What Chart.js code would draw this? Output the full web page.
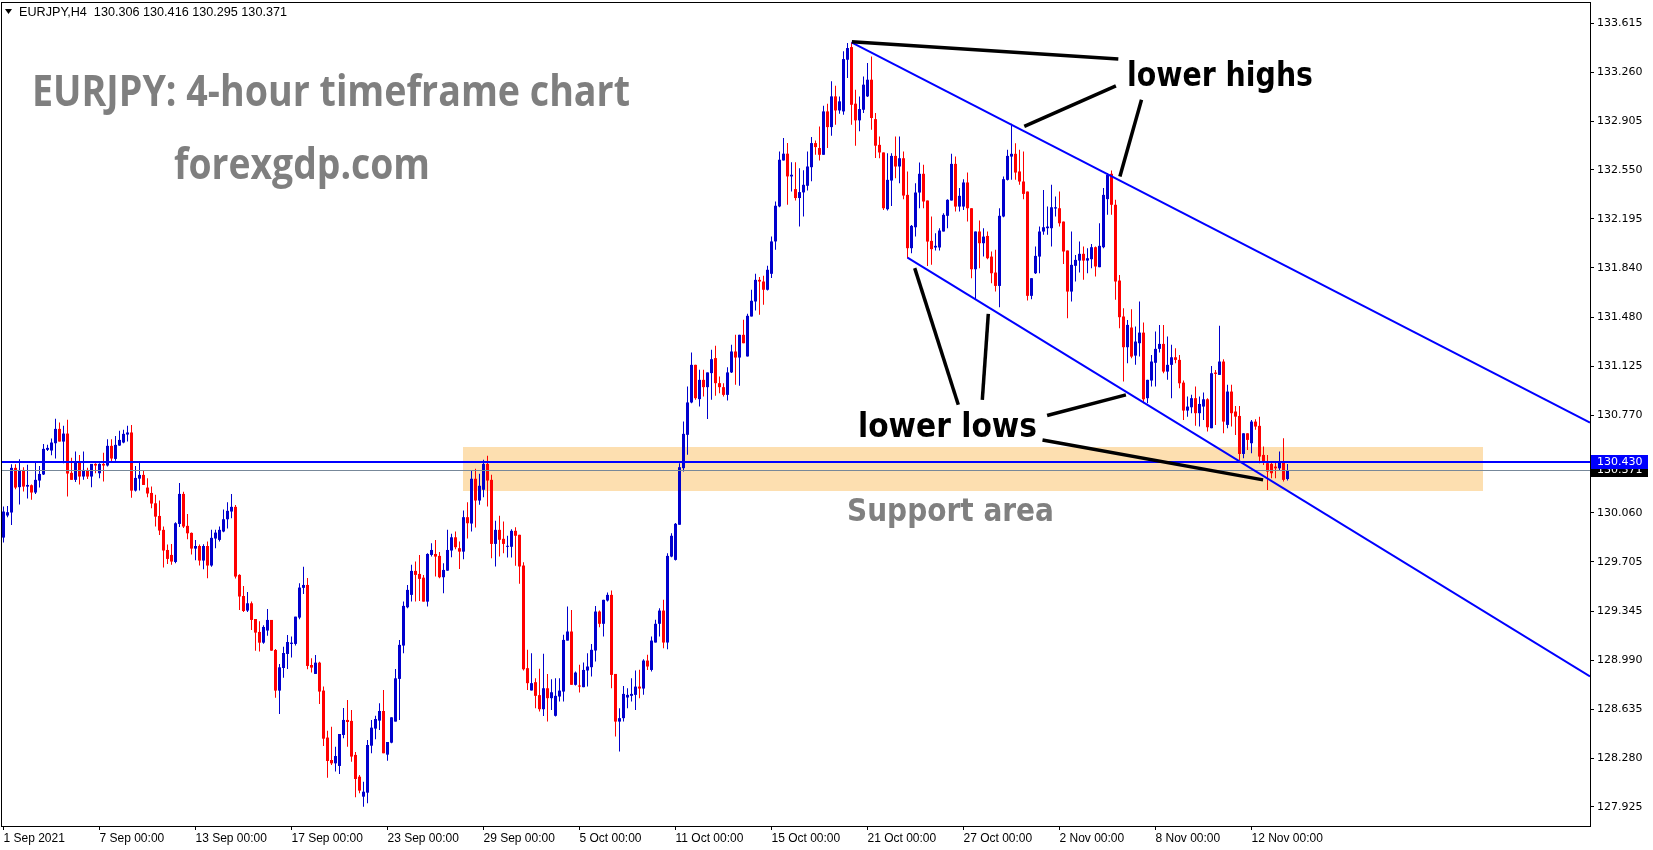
<!DOCTYPE html>
<html>
<head>
<meta charset="utf-8">
<title>EURJPY H4</title>
<script src="https://cdn.jsdelivr.net/npm/chart.js@4.4.1/dist/chart.umd.min.js"></script>
<style>
  html, body { margin: 0; padding: 0; background: #fff; }
  #wrap { width: 1653px; height: 850px; }
</style>
</head>
<body>
<div id="wrap"><canvas id="chart" width="1653" height="850"></canvas></div>
<script>
// H4 candles, 1 Sep 2021 00:00 onwards (bar index = position)
const opens = [
  129.881,130.041,130.063,130.387,130.247,130.372,130.251,130.261,130.208,130.295,130.339,130.518,
  130.513,130.566,130.670,130.578,130.636,130.351,130.300,130.431,130.324,130.372,130.324,130.416,
  130.348,130.416,130.404,130.547,130.452,130.549,130.571,130.629,130.644,130.222,130.309,130.336,
  130.244,130.205,130.130,130.038,129.937,129.791,129.755,129.704,129.980,130.198,129.966,129.915,
  129.801,129.820,129.714,129.820,129.678,129.874,129.864,129.925,130.014,130.070,130.104,129.610,
  129.457,129.351,129.404,129.290,129.196,129.118,129.206,129.283,129.065,128.770,128.934,129.036,
  129.109,129.109,129.300,129.516,129.537,128.956,128.891,128.973,128.770,128.429,128.266,128.242,
  128.223,128.448,128.557,128.550,128.303,128.145,128.000,128.029,128.370,128.494,128.552,128.622,
  128.305,128.392,128.545,128.855,129.097,129.375,129.465,129.639,129.617,129.590,129.416,129.755,
  129.762,129.748,129.593,129.641,129.787,129.883,129.804,129.779,130.029,129.983,130.308,130.150,
  130.228,130.416,130.300,129.835,129.937,129.872,129.814,129.814,129.930,129.901,129.678,128.933,
  128.771,128.831,128.737,128.635,128.787,128.715,128.587,128.727,128.763,129.133,129.199,128.812,
  128.807,128.795,128.916,128.940,129.061,129.344,129.255,129.424,129.465,128.891,128.545,128.570,
  128.720,128.732,128.739,128.799,128.785,128.988,128.920,129.119,129.255,129.351,129.119,129.743,
  129.719,129.974,130.385,130.627,130.862,131.135,130.886,131.026,130.973,131.075,131.184,131.002,
  130.973,130.917,131.080,131.232,131.188,131.353,131.196,131.486,131.595,131.752,131.740,131.680,
  131.796,132.031,132.285,132.619,132.668,132.503,132.411,132.346,132.387,132.435,132.570,132.745,
  132.709,132.660,132.975,132.861,133.084,132.982,132.975,133.350,133.442,133.031,132.910,132.987,
  133.084,133.205,132.919,132.732,132.677,132.265,132.473,132.652,132.575,132.635,132.369,131.982,
  132.134,132.386,132.522,132.328,132.035,131.987,131.987,132.103,132.217,132.328,132.594,132.284,
  132.284,132.459,132.272,131.829,132.103,132.018,132.071,131.921,131.805,131.708,132.212,132.478,
  132.647,132.667,132.539,132.466,132.393,131.636,131.800,131.921,132.103,132.127,132.127,132.270,
  132.272,132.175,131.965,131.667,131.854,131.892,131.941,131.892,131.902,131.989,131.844,131.989,
  132.338,132.522,132.297,131.747,131.486,131.263,131.406,131.202,131.292,131.369,130.893,131.021,
  131.150,131.251,131.287,131.086,131.135,131.190,131.171,131.006,130.803,130.827,130.893,130.784,
  130.832,130.885,130.675,131.079,131.062,131.159,130.699,130.941,130.796,130.764,130.488,130.638,
  130.566,130.723,130.692,130.481,130.421,130.416,130.396,130.384,130.433,130.306
];
const highs = [
  130.106,130.111,130.414,130.414,130.450,130.392,130.409,130.266,130.433,130.401,130.561,130.554,
  130.600,130.743,130.716,130.692,130.736,130.460,130.506,130.481,130.506,130.387,130.416,130.421,
  130.421,130.496,130.595,130.595,130.619,130.656,130.663,130.692,130.699,130.401,130.431,130.372,
  130.312,130.251,130.191,130.150,129.961,129.830,129.835,129.992,130.278,130.213,130.053,129.917,
  129.864,129.830,129.833,129.852,129.937,129.937,129.961,130.084,130.138,130.198,130.118,129.615,
  129.530,129.486,129.416,129.290,129.273,129.244,129.363,129.283,129.072,128.964,129.089,129.174,
  129.162,129.307,129.549,129.670,129.588,129.005,129.029,128.980,128.799,128.479,128.508,128.363,
  128.455,128.644,128.702,128.629,128.324,128.157,128.109,128.412,128.557,128.588,128.678,128.775,
  128.397,128.576,128.927,129.138,129.416,129.537,129.683,129.707,129.755,129.610,129.767,129.840,
  129.864,129.777,129.695,129.937,129.908,129.925,129.852,130.077,130.138,130.368,130.380,130.344,
  130.446,130.475,130.337,130.003,130.039,129.998,129.894,129.942,129.956,129.901,129.702,129.066,
  129.042,128.860,128.928,129.037,128.891,128.853,128.860,128.860,129.175,129.380,129.356,128.908,
  128.957,128.974,129.042,129.109,129.385,129.351,129.429,129.482,129.497,128.891,128.642,128.804,
  128.787,128.860,128.916,128.921,128.998,129.030,129.163,129.284,129.368,129.429,129.768,129.913,
  129.986,130.421,130.724,130.978,131.225,131.135,131.099,131.099,131.080,131.244,131.273,131.050,
  131.002,131.118,131.280,131.353,131.353,131.462,131.506,131.680,131.796,131.772,131.782,131.854,
  132.067,132.321,132.684,132.781,132.745,132.605,132.605,132.563,132.547,132.684,132.789,132.764,
  132.866,133.016,133.031,133.193,133.161,133.084,133.411,133.471,133.476,133.132,133.084,133.229,
  133.326,133.374,132.963,132.793,132.677,132.672,132.672,132.793,132.793,132.684,132.539,132.151,
  132.454,132.604,132.587,132.328,132.212,132.091,132.127,132.236,132.338,132.667,132.647,132.418,
  132.483,132.531,132.272,132.103,132.183,132.127,132.103,131.958,131.970,132.272,132.502,132.696,
  132.885,132.744,132.696,132.684,132.393,131.764,131.994,132.139,132.405,132.284,132.442,132.357,
  132.393,132.175,131.965,132.103,131.933,132.030,131.994,131.982,132.013,131.994,132.163,132.418,
  132.527,132.546,132.333,131.788,131.546,131.461,131.539,131.413,131.595,131.442,131.026,131.207,
  131.377,131.425,131.425,131.340,131.280,131.256,131.207,131.021,130.905,130.917,130.977,130.905,
  130.934,130.893,131.127,131.098,131.418,131.176,130.990,130.990,130.837,130.837,130.638,130.638,
  130.735,130.740,130.759,130.542,130.481,130.425,130.433,130.505,130.602,130.416
];
const lows = [
  129.845,130.029,129.973,130.232,130.121,130.215,130.164,130.155,130.198,130.244,130.336,130.510,
  130.479,130.455,130.578,130.421,130.179,130.300,130.285,130.266,130.300,130.307,130.247,130.348,
  130.312,130.288,130.397,130.433,130.438,130.547,130.566,130.578,130.171,130.215,130.222,130.263,
  130.174,130.094,129.961,129.900,129.663,129.690,129.683,129.695,129.958,129.951,129.869,129.758,
  129.716,129.678,129.651,129.586,129.670,129.804,129.852,129.920,129.946,130.021,129.583,129.356,
  129.341,129.341,129.210,129.060,129.053,129.111,129.169,129.060,128.719,128.600,128.864,128.927,
  129.010,129.097,129.288,129.472,128.925,128.901,128.891,128.673,128.368,128.138,128.230,128.182,
  128.165,128.424,128.363,128.254,127.995,128.024,127.927,127.952,128.315,128.416,128.484,128.315,
  128.261,128.387,128.545,128.557,129.041,129.368,129.416,129.416,129.421,129.416,129.380,129.743,
  129.598,129.586,129.477,129.641,129.738,129.796,129.653,129.724,129.874,129.925,129.954,130.119,
  130.174,130.107,129.731,129.671,129.744,129.768,129.736,129.736,129.676,129.545,128.916,128.775,
  128.771,128.642,128.618,128.586,128.545,128.630,128.582,128.690,128.690,129.133,128.812,128.807,
  128.756,128.795,128.799,128.872,128.981,129.230,129.163,129.417,128.787,128.436,128.327,128.545,
  128.642,128.690,128.630,128.715,128.739,128.920,128.908,129.119,129.163,129.078,129.071,129.739,
  129.715,129.974,130.361,130.482,130.857,130.881,130.833,130.905,130.741,130.881,130.910,130.929,
  130.905,130.876,131.075,130.990,130.983,131.292,131.196,131.486,131.530,131.498,131.571,131.675,
  131.765,131.970,132.280,132.619,132.297,132.394,132.329,132.140,132.212,132.401,132.467,132.660,
  132.619,132.660,132.709,132.798,132.878,132.958,132.951,133.217,132.878,132.726,132.830,132.963,
  133.079,132.842,132.636,132.635,132.260,132.255,132.289,132.490,132.454,132.338,131.909,131.946,
  132.067,132.272,132.272,131.853,131.861,131.965,131.965,132.103,132.127,132.328,132.248,132.248,
  132.260,132.175,131.764,131.611,131.837,131.921,131.902,131.728,131.667,131.553,132.207,132.473,
  132.478,132.478,132.442,132.338,131.602,131.611,131.795,131.800,132.079,132.079,131.994,132.212,
  132.139,131.868,131.473,131.594,131.740,131.805,131.752,131.800,131.837,131.776,131.844,131.982,
  132.224,132.224,131.607,131.401,131.014,131.147,131.183,131.135,131.195,130.856,130.856,130.977,
  130.977,131.224,131.074,131.026,130.893,131.147,130.965,130.735,130.759,130.784,130.692,130.687,
  130.735,130.651,130.675,130.699,131.062,130.638,130.675,130.687,130.626,130.445,130.457,130.517,
  130.493,130.663,130.421,130.408,130.227,130.312,130.312,130.372,130.288,130.295
];
const closes = [
  130.070,130.065,130.387,130.244,130.372,130.251,130.263,130.208,130.300,130.343,130.525,130.532,
  130.571,130.670,130.578,130.636,130.346,130.300,130.431,130.324,130.372,130.324,130.416,130.404,
  130.416,130.404,130.547,130.455,130.554,130.590,130.634,130.644,130.222,130.314,130.336,130.263,
  130.201,130.128,130.033,129.932,129.787,129.726,129.707,129.985,130.198,129.961,129.912,129.801,
  129.820,129.714,129.820,129.678,129.879,129.917,129.937,130.014,130.075,130.104,129.598,129.453,
  129.348,129.404,129.283,129.191,129.118,129.232,129.283,129.060,128.770,128.939,129.043,129.123,
  129.118,129.307,129.518,129.537,128.949,128.937,128.973,128.763,128.421,128.259,128.242,128.295,
  128.455,128.557,128.542,128.291,128.128,128.044,128.036,128.375,128.501,128.564,128.622,128.315,
  128.397,128.576,128.859,129.102,129.385,129.501,129.639,129.610,129.581,129.416,129.762,129.791,
  129.743,129.593,129.646,129.791,129.883,129.811,129.779,130.029,129.985,130.308,130.150,130.257,
  130.416,130.295,129.835,129.937,129.865,129.835,129.821,129.930,129.894,129.671,128.925,128.824,
  128.824,128.732,128.635,128.787,128.715,128.758,128.732,128.770,129.138,129.199,128.812,128.901,
  128.799,128.920,128.945,129.066,129.344,129.255,129.429,129.465,128.884,128.545,128.570,128.746,
  128.739,128.746,128.799,128.785,128.988,128.945,129.133,129.255,129.351,129.119,129.748,129.894,
  129.981,130.392,130.634,130.862,131.135,130.893,131.026,130.973,131.080,131.176,131.002,130.973,
  130.917,131.080,131.232,131.188,131.353,131.292,131.491,131.600,131.752,131.740,131.680,131.825,
  132.031,132.290,132.624,132.668,132.503,132.515,132.346,132.389,132.442,132.575,132.745,132.716,
  132.660,132.975,132.861,133.084,132.982,133.048,133.355,133.435,133.023,132.910,132.992,133.169,
  133.205,132.927,132.726,132.677,132.272,132.478,132.652,132.575,132.635,132.364,131.982,132.144,
  132.386,132.522,132.321,132.030,131.975,131.999,132.110,132.224,132.333,132.594,132.284,132.362,
  132.459,132.272,131.829,132.103,132.018,132.066,131.909,131.800,131.708,132.217,132.483,132.652,
  132.667,132.531,132.466,132.376,131.636,131.764,131.926,132.103,132.134,132.139,132.279,132.279,
  132.163,131.958,131.667,131.861,131.897,131.941,131.892,131.909,131.989,131.849,131.999,132.369,
  132.514,132.297,131.740,131.481,131.263,131.425,131.195,131.304,131.369,130.885,131.026,131.159,
  131.251,131.287,131.086,131.135,131.190,131.171,131.001,130.803,130.832,130.893,130.784,130.851,
  130.885,130.682,131.074,131.069,131.159,130.723,130.941,130.784,130.759,130.488,130.638,130.590,
  130.723,130.687,130.469,130.433,130.360,130.348,130.384,130.433,130.300,130.371
];

const xTickBars = [0, 24, 48, 72, 96, 120, 144, 168, 192, 216, 240, 264, 288, 312];
const xTickLabels = ['1 Sep 2021', '7 Sep 00:00', '13 Sep 00:00', '17 Sep 00:00', '23 Sep 00:00',
  '29 Sep 00:00', '5 Oct 00:00', '11 Oct 00:00', '15 Oct 00:00', '21 Oct 00:00', '27 Oct 00:00',
  '2 Nov 00:00', '8 Nov 00:00', '12 Nov 00:00'];
const yTickValues = [133.615, 133.260, 132.905, 132.550, 132.195, 131.840, 131.480, 131.125,
  130.770, 130.060, 129.705, 129.345, 128.990, 128.635, 128.280, 127.925];

// drawn objects, in [bar, price]
const resistanceLevel = 130.430;
const bidLevel = closes[closes.length - 1];
const channelUpper = [[212, 133.476], [252, 132.878]];
const channelLower = [[226, 131.914], [316, 130.310]];
const supportZone = [[114.75, 130.540], [369.8, 130.222]];
const pointerLines = [
  [[212.1, 133.480], [278.7, 133.355]],
  [[255.2, 132.866], [278.1, 133.161]],
  [[279.1, 132.502], [284.5, 133.059]],
  [[227.8, 131.837], [238.7, 130.845]],
  [[246.2, 131.505], [244.7, 130.881]],
  [[260.9, 130.767], [280.6, 130.917]],
  [[259.75, 130.590], [314.9, 130.300]]
];

const UP = '#0000cd', DOWN = '#ff0000';
const candleColors = closes.map((c, i) => c >= opens[i] ? UP : DOWN);

function fitText(ctx, text, x, y, font, width, color) {
  ctx.save();
  ctx.font = font;
  ctx.fillStyle = color;
  ctx.textBaseline = 'alphabetic';
  ctx.textAlign = 'left';
  const w = ctx.measureText(text).width;
  ctx.translate(x, y);
  ctx.scale(width / w, 1);
  ctx.fillText(text, 0, 0);
  ctx.restore();
}

function ray(ctx, xs, ys, p1, p2, toX) {
  const slope = (p2[1] - p1[1]) / (p2[0] - p1[0]);
  ctx.beginPath();
  ctx.moveTo(xs.getPixelForValue(p1[0]), ys.getPixelForValue(p1[1]));
  ctx.lineTo(xs.getPixelForValue(toX), ys.getPixelForValue(p1[1] + slope * (toX - p1[0])));
  ctx.stroke();
}

const overlay = {
  id: 'overlay',
  beforeDatasetsDraw(chart) {
    const { ctx, chartArea: a, scales: { x, y } } = chart;
    ctx.save();
    ctx.beginPath();
    ctx.rect(a.left, a.top, a.right - a.left, a.bottom - a.top);
    ctx.clip();
    const x0 = Math.round(x.getPixelForValue(supportZone[0][0]));
    const x1 = Math.round(x.getPixelForValue(supportZone[1][0]));
    const y0 = Math.round(y.getPixelForValue(supportZone[0][1]));
    const y1 = Math.round(y.getPixelForValue(supportZone[1][1]));
    ctx.fillStyle = '#fddfb0';
    ctx.fillRect(x0, y0, x1 - x0, y1 - y0);
    ctx.restore();
  },
  afterDatasetsDraw(chart) {
    const { ctx, chartArea: a, scales: { x, y } } = chart;
    ctx.save();
    ctx.beginPath();
    ctx.rect(a.left, a.top, a.right - a.left, a.bottom - a.top);
    ctx.clip();

    // price lines
    const yr = Math.round(y.getPixelForValue(resistanceLevel));
    ctx.fillStyle = '#0000ff';
    ctx.fillRect(a.left, yr - 1, a.right - a.left, 2);
    const yb = Math.round(y.getPixelForValue(bidLevel));
    ctx.fillStyle = '#778899';
    ctx.fillRect(a.left, yb, a.right - a.left, 1);

    // channel
    ctx.strokeStyle = '#0000ff';
    ctx.lineWidth = 2;
    ray(ctx, x, y, channelUpper[0], channelUpper[1], x.max);
    ray(ctx, x, y, channelLower[0], channelLower[1], x.max);

    // pointers
    ctx.strokeStyle = '#000';
    ctx.lineWidth = 3.5;
    pointerLines.forEach(([p, q]) => {
      ctx.beginPath();
      ctx.moveTo(x.getPixelForValue(p[0]), y.getPixelForValue(p[1]));
      ctx.lineTo(x.getPixelForValue(q[0]), y.getPixelForValue(q[1]));
      ctx.stroke();
    });
    ctx.restore();

    fitText(ctx, 'EURJPY: 4-hour timeframe chart', 32, 106, 'bold 43px "Open Sans"', 598, '#7f7f7f');
    fitText(ctx, 'forexgdp.com', 174, 179, 'bold 43px "Open Sans"', 256, '#7f7f7f');
    fitText(ctx, 'lower highs', 1127, 86, 'bold 34px "DejaVu Sans"', 186, '#000');
    fitText(ctx, 'lower lows', 858, 437, 'bold 34px "DejaVu Sans"', 179, '#000');
    fitText(ctx, 'Support area', 847, 521, 'bold 32px "DejaVu Sans"', 207, '#808080');
  },
  afterDraw(chart) {
    const { ctx, chartArea: a, scales: { y } } = chart;
    ctx.save();
    // frame
    ctx.strokeStyle = '#000';
    ctx.lineWidth = 1;
    ctx.strokeRect(a.left - 0.5, a.top - 0.5, a.right - a.left + 1, a.bottom - a.top + 1);

    // price tags on the axis
    ctx.font = '11px "DejaVu Sans"';
    ctx.textBaseline = 'middle';
    const yb = Math.round(y.getPixelForValue(bidLevel));
    ctx.fillStyle = '#000';
    ctx.fillRect(a.right + 1, yb - 7, 57, 14);
    ctx.fillStyle = '#fff';
    ctx.fillText(bidLevel.toFixed(3), a.right + 7, yb + 0.5);
    const yr = Math.round(y.getPixelForValue(resistanceLevel));
    ctx.fillStyle = '#0000ff';
    ctx.fillRect(a.right + 1, yr - 7, 57, 14);
    ctx.fillStyle = '#fff';
    ctx.fillText(resistanceLevel.toFixed(3), a.right + 7, yr + 0.5);

    // symbol header
    const n = closes.length - 1;
    ctx.fillStyle = '#000';
    ctx.beginPath();
    ctx.moveTo(5, 9); ctx.lineTo(12, 9); ctx.lineTo(8.5, 14); ctx.closePath();
    ctx.fill();
    ctx.restore();
    const header = 'EURJPY,H4  ' + [opens[n], highs[n], lows[n], closes[n]].map(v => v.toFixed(3)).join(' ');
    fitText(ctx, header, 19, 16, '12px "Liberation Sans"', 268, '#000');
  }
};

new Chart(document.getElementById('chart'), {
  type: 'bar',
  data: {
    datasets: [
      {
        label: 'wicks',
        data: highs.map((h, i) => ({ x: i, y: [lows[i], h] })),
        backgroundColor: candleColors,
        grouped: false,
        categoryPercentage: 1,
        barPercentage: 0.25,
        minBarLength: 1,
        inflateAmount: 0,
        borderWidth: 0
      },
      {
        label: 'bodies',
        data: opens.map((o, i) => ({ x: i, y: [o, closes[i]] })),
        backgroundColor: candleColors,
        grouped: false,
        categoryPercentage: 1,
        barPercentage: 0.75,
        minBarLength: 1,
        inflateAmount: 0,
        borderWidth: 0
      }
    ]
  },
  options: {
    responsive: false,
    animation: false,
    events: [],
    layout: { padding: { left: 2, top: 3, right: 0, bottom: 0 } },
    plugins: { legend: { display: false }, tooltip: { enabled: false } },
    scales: {
      x: {
        type: 'linear',
        bounds: 'data',
        min: -0.375,
        max: 396.625,
        offset: false,
        border: { display: false },
        grid: { display: true, offset: false, drawOnChartArea: false, drawTicks: true, tickLength: 4, color: '#000' },
        afterBuildTicks: scale => { scale.ticks = xTickBars.map(v => ({ value: v })); },
        afterFit: scale => { scale.height = 24; scale.paddingLeft = 0; scale.paddingRight = 0; },
        ticks: {
          autoSkip: false,
          maxRotation: 0,
          align: 'start',
          padding: 1,
          color: '#000',
          font: { family: 'Liberation Sans', size: 12 },
          callback: (v, i) => xTickLabels[i]
        }
      },
      y: {
        position: 'right',
        bounds: 'data',
        min: 127.787,
        max: 133.762,
        border: { display: false },
        grid: { display: true, drawOnChartArea: false, drawTicks: true, tickLength: 4, color: '#000' },
        afterBuildTicks: scale => { scale.ticks = yTickValues.map(v => ({ value: v })); },
        afterFit: scale => { scale.width = 63; scale.paddingTop = 0; scale.paddingBottom = 0; },
        ticks: {
          autoSkip: false,
          padding: 3,
          color: '#000',
          font: { family: 'DejaVu Sans', size: 11 },
          callback: v => v.toFixed(3)
        }
      }
    }
  },
  plugins: [overlay]
});
</script>
</body>
</html>
